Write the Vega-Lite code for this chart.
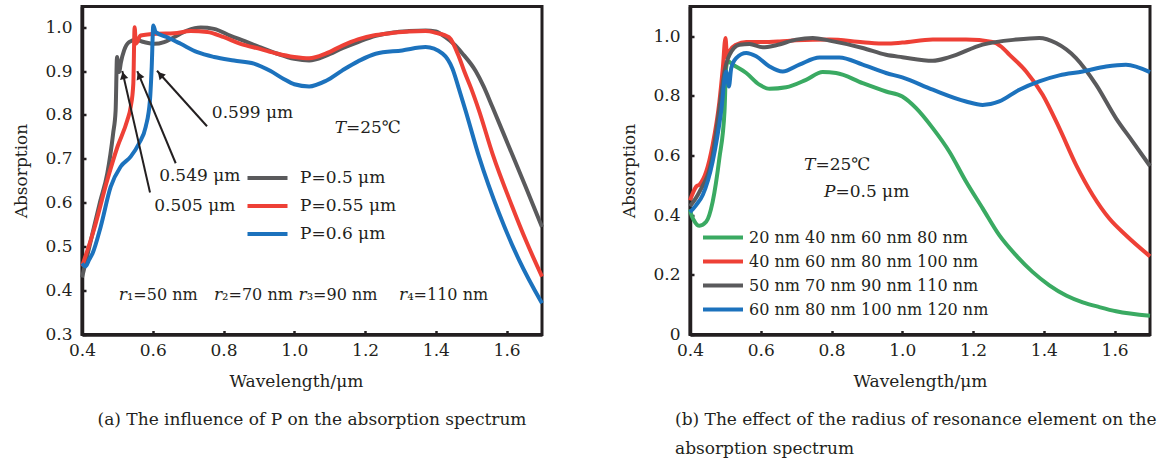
{
  "$schema": "https://vega.github.io/schema/vega-lite/v6.json",
  "padding": {"left": 11, "top": 4.5, "right": 3, "bottom": 5},
  "background": "white",
  "bounds": "flush",
  "spacing": 148,
  "config": {
    "font": "DejaVu Serif",
    "view": {"stroke": "#231f20", "strokeWidth": 3},
    "axis": {
      "grid": false,
      "labelFlush": false,
      "labelOverlap": false,
      "domainColor": "#231f20",
      "domainWidth": 3.5,
      "tickColor": "#231f20",
      "tickWidth": 2.5,
      "tickSize": -4,
      "labelFont": "DejaVu Serif",
      "labelFontSize": 17,
      "labelColor": "#231f20",
      "titleFont": "DejaVu Serif",
      "titleFontSize": 17,
      "titleFontWeight": "normal",
      "titleColor": "#231f20"
    },
    "legend": {
      "labelFont": "DejaVu Serif",
      "labelFontSize": 17,
      "labelColor": "#231f20",
      "labelLimit": 0,
      "symbolType": "M-4,0H4",
      "symbolSize": 100,
      "symbolStrokeWidth": 4,
      "padding": 0
    },
    "title": {"font": "DejaVu Serif", "fontSize": 17, "fontWeight": "normal", "color": "#231f20"}
  },
  "resolve": {
    "scale": {"x": "independent", "y": "independent", "color": "independent"},
    "legend": {"color": "independent"}
  },
  "datasets": {
    "left": [
      {"w":0.400,"a":0.430,"s":"P=0.5 μm"},{"w":0.415,"a":0.480,"s":"P=0.5 μm"},{"w":0.434,"a":0.545,"s":"P=0.5 μm"},{"w":0.452,"a":0.605,"s":"P=0.5 μm"},{"w":0.4715,"a":0.667,"s":"P=0.5 μm"},{"w":0.488,"a":0.758,"s":"P=0.5 μm"},{"w":0.495,"a":0.810,"s":"P=0.5 μm"},{"w":0.499,"a":0.932,"s":"P=0.5 μm"},{"w":0.502,"a":0.910,"s":"P=0.5 μm"},{"w":0.505,"a":0.898,"s":"P=0.5 μm"},{"w":0.510,"a":0.920,"s":"P=0.5 μm"},{"w":0.519,"a":0.947,"s":"P=0.5 μm"},{"w":0.533,"a":0.966,"s":"P=0.5 μm"},{"w":0.552,"a":0.971,"s":"P=0.5 μm"},{"w":0.575,"a":0.966,"s":"P=0.5 μm"},{"w":0.604,"a":0.962,"s":"P=0.5 μm"},{"w":0.632,"a":0.966,"s":"P=0.5 μm"},{"w":0.660,"a":0.977,"s":"P=0.5 μm"},{"w":0.697,"a":0.992,"s":"P=0.5 μm"},{"w":0.7355,"a":0.999,"s":"P=0.5 μm"},{"w":0.773,"a":0.996,"s":"P=0.5 μm"},{"w":0.820,"a":0.980,"s":"P=0.5 μm"},{"w":0.860,"a":0.968,"s":"P=0.5 μm"},{"w":0.900,"a":0.955,"s":"P=0.5 μm"},{"w":0.950,"a":0.940,"s":"P=0.5 μm"},{"w":1.000,"a":0.928,"s":"P=0.5 μm"},{"w":1.042,"a":0.924,"s":"P=0.5 μm"},{"w":1.090,"a":0.935,"s":"P=0.5 μm"},{"w":1.136,"a":0.952,"s":"P=0.5 μm"},{"w":1.180,"a":0.966,"s":"P=0.5 μm"},{"w":1.230,"a":0.980,"s":"P=0.5 μm"},{"w":1.280,"a":0.988,"s":"P=0.5 μm"},{"w":1.324,"a":0.991,"s":"P=0.5 μm"},{"w":1.371,"a":0.9925,"s":"P=0.5 μm"},{"w":1.400,"a":0.990,"s":"P=0.5 μm"},{"w":1.427,"a":0.977,"s":"P=0.5 μm"},{"w":1.450,"a":0.962,"s":"P=0.5 μm"},{"w":1.475,"a":0.940,"s":"P=0.5 μm"},{"w":1.5125,"a":0.900,"s":"P=0.5 μm"},{"w":1.535,"a":0.865,"s":"P=0.5 μm"},{"w":1.560,"a":0.818,"s":"P=0.5 μm"},{"w":1.607,"a":0.727,"s":"P=0.5 μm"},{"w":1.654,"a":0.636,"s":"P=0.5 μm"},{"w":1.700,"a":0.545,"s":"P=0.5 μm"},
      {"w":0.400,"a":0.455,"s":"P=0.55 μm"},{"w":0.4335,"a":0.538,"s":"P=0.55 μm"},{"w":0.4715,"a":0.652,"s":"P=0.55 μm"},{"w":0.500,"a":0.727,"s":"P=0.55 μm"},{"w":0.528,"a":0.788,"s":"P=0.55 μm"},{"w":0.5376,"a":0.818,"s":"P=0.55 μm"},{"w":0.545,"a":0.871,"s":"P=0.55 μm"},{"w":0.5487,"a":1.000,"s":"P=0.55 μm"},{"w":0.5524,"a":0.962,"s":"P=0.55 μm"},{"w":0.5656,"a":0.981,"s":"P=0.55 μm"},{"w":0.6128,"a":0.985,"s":"P=0.55 μm"},{"w":0.660,"a":0.986,"s":"P=0.55 μm"},{"w":0.707,"a":0.991,"s":"P=0.55 μm"},{"w":0.754,"a":0.989,"s":"P=0.55 μm"},{"w":0.801,"a":0.977,"s":"P=0.55 μm"},{"w":0.848,"a":0.962,"s":"P=0.55 μm"},{"w":0.905,"a":0.950,"s":"P=0.55 μm"},{"w":0.950,"a":0.940,"s":"P=0.55 μm"},{"w":1.000,"a":0.932,"s":"P=0.55 μm"},{"w":1.042,"a":0.929,"s":"P=0.55 μm"},{"w":1.090,"a":0.940,"s":"P=0.55 μm"},{"w":1.136,"a":0.958,"s":"P=0.55 μm"},{"w":1.180,"a":0.972,"s":"P=0.55 μm"},{"w":1.230,"a":0.982,"s":"P=0.55 μm"},{"w":1.280,"a":0.987,"s":"P=0.55 μm"},{"w":1.324,"a":0.990,"s":"P=0.55 μm"},{"w":1.371,"a":0.991,"s":"P=0.55 μm"},{"w":1.400,"a":0.987,"s":"P=0.55 μm"},{"w":1.437,"a":0.977,"s":"P=0.55 μm"},{"w":1.4655,"a":0.932,"s":"P=0.55 μm"},{"w":1.480,"a":0.900,"s":"P=0.55 μm"},{"w":1.500,"a":0.860,"s":"P=0.55 μm"},{"w":1.522,"a":0.810,"s":"P=0.55 μm"},{"w":1.560,"a":0.712,"s":"P=0.55 μm"},{"w":1.616,"a":0.591,"s":"P=0.55 μm"},{"w":1.654,"a":0.515,"s":"P=0.55 μm"},{"w":1.700,"a":0.432,"s":"P=0.55 μm"},
      {"w":0.400,"a":0.462,"s":"P=0.6 μm"},{"w":0.410,"a":0.455,"s":"P=0.6 μm"},{"w":0.420,"a":0.470,"s":"P=0.6 μm"},{"w":0.430,"a":0.485,"s":"P=0.6 μm"},{"w":0.4527,"a":0.545,"s":"P=0.6 μm"},{"w":0.481,"a":0.636,"s":"P=0.6 μm"},{"w":0.509,"a":0.682,"s":"P=0.6 μm"},{"w":0.5376,"a":0.705,"s":"P=0.6 μm"},{"w":0.561,"a":0.735,"s":"P=0.6 μm"},{"w":0.580,"a":0.773,"s":"P=0.6 μm"},{"w":0.592,"a":0.833,"s":"P=0.6 μm"},{"w":0.597,"a":0.909,"s":"P=0.6 μm"},{"w":0.6015,"a":1.004,"s":"P=0.6 μm"},{"w":0.608,"a":0.989,"s":"P=0.6 μm"},{"w":0.641,"a":0.977,"s":"P=0.6 μm"},{"w":0.679,"a":0.962,"s":"P=0.6 μm"},{"w":0.726,"a":0.943,"s":"P=0.6 μm"},{"w":0.7735,"a":0.932,"s":"P=0.6 μm"},{"w":0.8296,"a":0.924,"s":"P=0.6 μm"},{"w":0.886,"a":0.917,"s":"P=0.6 μm"},{"w":0.933,"a":0.900,"s":"P=0.6 μm"},{"w":0.970,"a":0.882,"s":"P=0.6 μm"},{"w":1.000,"a":0.870,"s":"P=0.6 μm"},{"w":1.042,"a":0.865,"s":"P=0.6 μm"},{"w":1.090,"a":0.878,"s":"P=0.6 μm"},{"w":1.136,"a":0.9016,"s":"P=0.6 μm"},{"w":1.180,"a":0.922,"s":"P=0.6 μm"},{"w":1.230,"a":0.9395,"s":"P=0.6 μm"},{"w":1.305,"a":0.947,"s":"P=0.6 μm"},{"w":1.371,"a":0.9545,"s":"P=0.6 μm"},{"w":1.419,"a":0.9395,"s":"P=0.6 μm"},{"w":1.447,"a":0.905,"s":"P=0.6 μm"},{"w":1.465,"a":0.860,"s":"P=0.6 μm"},{"w":1.484,"a":0.810,"s":"P=0.6 μm"},{"w":1.522,"a":0.705,"s":"P=0.6 μm"},{"w":1.5786,"a":0.576,"s":"P=0.6 μm"},{"w":1.635,"a":0.470,"s":"P=0.6 μm"},{"w":1.700,"a":0.371,"s":"P=0.6 μm"}
    ],
    "right": [
      {"w":0.400,"a":0.420,"s":"20 nm 40 nm 60 nm 80 nm"},{"w":0.403,"a":0.405,"s":"20 nm 40 nm 60 nm 80 nm"},{"w":0.410,"a":0.385,"s":"20 nm 40 nm 60 nm 80 nm"},{"w":0.420,"a":0.368,"s":"20 nm 40 nm 60 nm 80 nm"},{"w":0.427,"a":0.365,"s":"20 nm 40 nm 60 nm 80 nm"},{"w":0.4457,"a":0.378,"s":"20 nm 40 nm 60 nm 80 nm"},{"w":0.464,"a":0.445,"s":"20 nm 40 nm 60 nm 80 nm"},{"w":0.483,"a":0.591,"s":"20 nm 40 nm 60 nm 80 nm"},{"w":0.4975,"a":0.748,"s":"20 nm 40 nm 60 nm 80 nm"},{"w":0.502,"a":0.893,"s":"20 nm 40 nm 60 nm 80 nm"},{"w":0.507,"a":0.916,"s":"20 nm 40 nm 60 nm 80 nm"},{"w":0.521,"a":0.905,"s":"20 nm 40 nm 60 nm 80 nm"},{"w":0.559,"a":0.877,"s":"20 nm 40 nm 60 nm 80 nm"},{"w":0.596,"a":0.838,"s":"20 nm 40 nm 60 nm 80 nm"},{"w":0.6246,"a":0.824,"s":"20 nm 40 nm 60 nm 80 nm"},{"w":0.6718,"a":0.829,"s":"20 nm 40 nm 60 nm 80 nm"},{"w":0.728,"a":0.854,"s":"20 nm 40 nm 60 nm 80 nm"},{"w":0.775,"a":0.880,"s":"20 nm 40 nm 60 nm 80 nm"},{"w":0.813,"a":0.877,"s":"20 nm 40 nm 60 nm 80 nm"},{"w":0.888,"a":0.843,"s":"20 nm 40 nm 60 nm 80 nm"},{"w":0.954,"a":0.815,"s":"20 nm 40 nm 60 nm 80 nm"},{"w":1.000,"a":0.798,"s":"20 nm 40 nm 60 nm 80 nm"},{"w":1.039,"a":0.759,"s":"20 nm 40 nm 60 nm 80 nm"},{"w":1.086,"a":0.692,"s":"20 nm 40 nm 60 nm 80 nm"},{"w":1.133,"a":0.613,"s":"20 nm 40 nm 60 nm 80 nm"},{"w":1.180,"a":0.513,"s":"20 nm 40 nm 60 nm 80 nm"},{"w":1.227,"a":0.423,"s":"20 nm 40 nm 60 nm 80 nm"},{"w":1.274,"a":0.333,"s":"20 nm 40 nm 60 nm 80 nm"},{"w":1.321,"a":0.266,"s":"20 nm 40 nm 60 nm 80 nm"},{"w":1.368,"a":0.210,"s":"20 nm 40 nm 60 nm 80 nm"},{"w":1.4155,"a":0.165,"s":"20 nm 40 nm 60 nm 80 nm"},{"w":1.463,"a":0.131,"s":"20 nm 40 nm 60 nm 80 nm"},{"w":1.510,"a":0.108,"s":"20 nm 40 nm 60 nm 80 nm"},{"w":1.557,"a":0.092,"s":"20 nm 40 nm 60 nm 80 nm"},{"w":1.604,"a":0.078,"s":"20 nm 40 nm 60 nm 80 nm"},{"w":1.700,"a":0.063,"s":"20 nm 40 nm 60 nm 80 nm"},
      {"w":0.400,"a":0.450,"s":"40 nm 60 nm 80 nm 100 nm"},{"w":0.4175,"a":0.496,"s":"40 nm 60 nm 80 nm 100 nm"},{"w":0.427,"a":0.503,"s":"40 nm 60 nm 80 nm 100 nm"},{"w":0.4457,"a":0.546,"s":"40 nm 60 nm 80 nm 100 nm"},{"w":0.464,"a":0.636,"s":"40 nm 60 nm 80 nm 100 nm"},{"w":0.483,"a":0.780,"s":"40 nm 60 nm 80 nm 100 nm"},{"w":0.4927,"a":0.893,"s":"40 nm 60 nm 80 nm 100 nm"},{"w":0.5003,"a":0.994,"s":"40 nm 60 nm 80 nm 100 nm"},{"w":0.505,"a":0.927,"s":"40 nm 60 nm 80 nm 100 nm"},{"w":0.5116,"a":0.950,"s":"40 nm 60 nm 80 nm 100 nm"},{"w":0.5305,"a":0.972,"s":"40 nm 60 nm 80 nm 100 nm"},{"w":0.559,"a":0.981,"s":"40 nm 60 nm 80 nm 100 nm"},{"w":0.6057,"a":0.981,"s":"40 nm 60 nm 80 nm 100 nm"},{"w":0.653,"a":0.983,"s":"40 nm 60 nm 80 nm 100 nm"},{"w":0.700,"a":0.9866,"s":"40 nm 60 nm 80 nm 100 nm"},{"w":0.794,"a":0.989,"s":"40 nm 60 nm 80 nm 100 nm"},{"w":0.888,"a":0.980,"s":"40 nm 60 nm 80 nm 100 nm"},{"w":0.954,"a":0.9755,"s":"40 nm 60 nm 80 nm 100 nm"},{"w":1.000,"a":0.979,"s":"40 nm 60 nm 80 nm 100 nm"},{"w":1.086,"a":0.989,"s":"40 nm 60 nm 80 nm 100 nm"},{"w":1.180,"a":0.989,"s":"40 nm 60 nm 80 nm 100 nm"},{"w":1.255,"a":0.981,"s":"40 nm 60 nm 80 nm 100 nm"},{"w":1.280,"a":0.965,"s":"40 nm 60 nm 80 nm 100 nm"},{"w":1.3025,"a":0.9385,"s":"40 nm 60 nm 80 nm 100 nm"},{"w":1.350,"a":0.882,"s":"40 nm 60 nm 80 nm 100 nm"},{"w":1.3966,"a":0.804,"s":"40 nm 60 nm 80 nm 100 nm"},{"w":1.4438,"a":0.692,"s":"40 nm 60 nm 80 nm 100 nm"},{"w":1.491,"a":0.569,"s":"40 nm 60 nm 80 nm 100 nm"},{"w":1.538,"a":0.468,"s":"40 nm 60 nm 80 nm 100 nm"},{"w":1.585,"a":0.389,"s":"40 nm 60 nm 80 nm 100 nm"},{"w":1.632,"a":0.333,"s":"40 nm 60 nm 80 nm 100 nm"},{"w":1.700,"a":0.262,"s":"40 nm 60 nm 80 nm 100 nm"},
      {"w":0.400,"a":0.430,"s":"50 nm 70 nm 90 nm 110 nm"},{"w":0.427,"a":0.479,"s":"50 nm 70 nm 90 nm 110 nm"},{"w":0.464,"a":0.602,"s":"50 nm 70 nm 90 nm 110 nm"},{"w":0.483,"a":0.759,"s":"50 nm 70 nm 90 nm 110 nm"},{"w":0.4975,"a":0.882,"s":"50 nm 70 nm 90 nm 110 nm"},{"w":0.5116,"a":0.938,"s":"50 nm 70 nm 90 nm 110 nm"},{"w":0.540,"a":0.972,"s":"50 nm 70 nm 90 nm 110 nm"},{"w":0.568,"a":0.974,"s":"50 nm 70 nm 90 nm 110 nm"},{"w":0.6057,"a":0.963,"s":"50 nm 70 nm 90 nm 110 nm"},{"w":0.6435,"a":0.970,"s":"50 nm 70 nm 90 nm 110 nm"},{"w":0.700,"a":0.989,"s":"50 nm 70 nm 90 nm 110 nm"},{"w":0.747,"a":0.9945,"s":"50 nm 70 nm 90 nm 110 nm"},{"w":0.794,"a":0.9855,"s":"50 nm 70 nm 90 nm 110 nm"},{"w":0.888,"a":0.961,"s":"50 nm 70 nm 90 nm 110 nm"},{"w":0.954,"a":0.938,"s":"50 nm 70 nm 90 nm 110 nm"},{"w":1.000,"a":0.930,"s":"50 nm 70 nm 90 nm 110 nm"},{"w":1.086,"a":0.918,"s":"50 nm 70 nm 90 nm 110 nm"},{"w":1.133,"a":0.930,"s":"50 nm 70 nm 90 nm 110 nm"},{"w":1.227,"a":0.972,"s":"50 nm 70 nm 90 nm 110 nm"},{"w":1.321,"a":0.989,"s":"50 nm 70 nm 90 nm 110 nm"},{"w":1.387,"a":0.9945,"s":"50 nm 70 nm 90 nm 110 nm"},{"w":1.4345,"a":0.9775,"s":"50 nm 70 nm 90 nm 110 nm"},{"w":1.491,"a":0.927,"s":"50 nm 70 nm 90 nm 110 nm"},{"w":1.5475,"a":0.838,"s":"50 nm 70 nm 90 nm 110 nm"},{"w":1.604,"a":0.725,"s":"50 nm 70 nm 90 nm 110 nm"},{"w":1.651,"a":0.647,"s":"50 nm 70 nm 90 nm 110 nm"},{"w":1.700,"a":0.565,"s":"50 nm 70 nm 90 nm 110 nm"},
      {"w":0.400,"a":0.410,"s":"60 nm 80 nm 100 nm 120 nm"},{"w":0.4175,"a":0.434,"s":"60 nm 80 nm 100 nm 120 nm"},{"w":0.436,"a":0.468,"s":"60 nm 80 nm 100 nm 120 nm"},{"w":0.464,"a":0.580,"s":"60 nm 80 nm 100 nm 120 nm"},{"w":0.488,"a":0.748,"s":"60 nm 80 nm 100 nm 120 nm"},{"w":0.502,"a":0.882,"s":"60 nm 80 nm 100 nm 120 nm"},{"w":0.510,"a":0.832,"s":"60 nm 80 nm 100 nm 120 nm"},{"w":0.5165,"a":0.893,"s":"60 nm 80 nm 100 nm 120 nm"},{"w":0.5305,"a":0.927,"s":"60 nm 80 nm 100 nm 120 nm"},{"w":0.559,"a":0.944,"s":"60 nm 80 nm 100 nm 120 nm"},{"w":0.587,"a":0.933,"s":"60 nm 80 nm 100 nm 120 nm"},{"w":0.6246,"a":0.899,"s":"60 nm 80 nm 100 nm 120 nm"},{"w":0.662,"a":0.882,"s":"60 nm 80 nm 100 nm 120 nm"},{"w":0.709,"a":0.905,"s":"60 nm 80 nm 100 nm 120 nm"},{"w":0.766,"a":0.929,"s":"60 nm 80 nm 100 nm 120 nm"},{"w":0.822,"a":0.929,"s":"60 nm 80 nm 100 nm 120 nm"},{"w":0.888,"a":0.905,"s":"60 nm 80 nm 100 nm 120 nm"},{"w":0.954,"a":0.877,"s":"60 nm 80 nm 100 nm 120 nm"},{"w":1.000,"a":0.862,"s":"60 nm 80 nm 100 nm 120 nm"},{"w":1.086,"a":0.821,"s":"60 nm 80 nm 100 nm 120 nm"},{"w":1.180,"a":0.7815,"s":"60 nm 80 nm 100 nm 120 nm"},{"w":1.227,"a":0.770,"s":"60 nm 80 nm 100 nm 120 nm"},{"w":1.274,"a":0.7815,"s":"60 nm 80 nm 100 nm 120 nm"},{"w":1.3308,"a":0.821,"s":"60 nm 80 nm 100 nm 120 nm"},{"w":1.387,"a":0.849,"s":"60 nm 80 nm 100 nm 120 nm"},{"w":1.4438,"a":0.869,"s":"60 nm 80 nm 100 nm 120 nm"},{"w":1.510,"a":0.882,"s":"60 nm 80 nm 100 nm 120 nm"},{"w":1.576,"a":0.899,"s":"60 nm 80 nm 100 nm 120 nm"},{"w":1.632,"a":0.905,"s":"60 nm 80 nm 100 nm 120 nm"},{"w":1.700,"a":0.880,"s":"60 nm 80 nm 100 nm 120 nm"}
    ],
    "arrows": [
      {"id":1,"x":0.7533,"y":0.7743,"x2":0.612,"y2":0.9007,"hx":0.6235,"hy":0.8897},
      {"id":2,"x":0.6648,"y":0.690,"x2":0.5563,"y2":0.900,"hx":0.5628,"hy":0.8875},
      {"id":3,"x":0.5922,"y":0.6234,"x2":0.5139,"y2":0.900,"hx":0.5176,"hy":0.8873}
    ],
    "textL": [
      {"x":0.767,"y":0.804,"t":"0.599 μm"},
      {"x":0.618,"y":0.661,"t":"0.549 μm"},
      {"x":0.604,"y":0.592,"t":"0.505 μm"},
      {"x":1.146,"y":0.77,"t":"=25℃"}
    ],
    "rL": [
      {"x":0.527,"y":0.389,"t":"₁=50 nm"},
      {"x":0.796,"y":0.389,"t":"₂=70 nm"},
      {"x":1.035,"y":0.389,"t":"₃=90 nm"},
      {"x":1.319,"y":0.389,"t":"₄=110 nm"}
    ],
    "italL": [
      {"x":1.146,"y":0.77,"t":"T"},
      {"x":0.527,"y":0.389,"t":"r"},
      {"x":0.796,"y":0.389,"t":"r"},
      {"x":1.035,"y":0.389,"t":"r"},
      {"x":1.319,"y":0.389,"t":"r"}
    ],
    "textR": [
      {"x":0.7545,"y":0.567,"t":"=25℃"},
      {"x":0.811,"y":0.477,"t":"=0.5 μm"}
    ],
    "italR": [
      {"x":0.7545,"y":0.567,"t":"T"},
      {"x":0.811,"y":0.477,"t":"P"}
    ]
  },
  "hconcat": [
    {
      "width": 460,
      "height": 328,
      "title": {"text": "(a) The influence of P on the absorption spectrum", "orient": "bottom", "anchor": "middle", "frame": "group", "offset": 22},
      "layer": [
        {
          "data": {"name": "left"},
          "mark": {"type": "line", "strokeWidth": 4, "interpolate": "monotone"},
          "encoding": {
            "x": {"field": "w", "type": "quantitative", "scale": {"domain": [0.4, 1.7], "nice": false, "zero": false},
                  "axis": {"title": "Wavelength/μm", "values": [0.4, 0.6, 0.8, 1.0, 1.2, 1.4, 1.6], "format": ".1f", "labelPadding": 12, "titlePadding": 15, "titleX": 214}},
            "y": {"field": "a", "type": "quantitative", "scale": {"domain": [0.3, 1.047], "nice": false, "zero": false},
                  "axis": {"title": "Absorption", "values": [0.3, 0.4, 0.5, 0.6, 0.7, 0.8, 0.9, 1.0], "format": ".1f", "labelPadding": 14, "titlePadding": 14}},
            "color": {"field": "s", "type": "nominal",
                      "scale": {"domain": ["P=0.5 μm", "P=0.55 μm", "P=0.6 μm"], "range": ["#5a5a5c", "#ee4036", "#1c72bd"]},
                      "legend": {"title": null, "orient": "none", "legendX": 177, "legendY": 163, "labelOffset": 24, "rowPadding": 10}}
          }
        },
        {
          "mark": {"type": "rule", "color": "#231f20", "strokeWidth": 2, "strokeDash": [12, 5, 3, 5]},
          "encoding": {"y": {"datum": 0.9, "type": "quantitative"}}
        },
        {
          "data": {"name": "arrows"},
          "mark": {"type": "rule", "color": "#231f20", "strokeWidth": 2},
          "encoding": {
            "x": {"field": "x", "type": "quantitative"},
            "y": {"field": "y", "type": "quantitative"},
            "x2": {"field": "x2"},
            "y2": {"field": "y2"}
          }
        },
        {
          "data": {"name": "arrows"},
          "transform": [{"filter": "datum.id == 1"}],
          "mark": {"type": "point", "shape": "triangle", "filled": true, "color": "#231f20", "size": 70, "angle": 318, "opacity": 1},
          "encoding": {"x": {"field": "hx", "type": "quantitative"}, "y": {"field": "hy", "type": "quantitative"}}
        },
        {
          "data": {"name": "arrows"},
          "transform": [{"filter": "datum.id == 2"}],
          "mark": {"type": "point", "shape": "triangle", "filled": true, "color": "#231f20", "size": 70, "angle": 337, "opacity": 1},
          "encoding": {"x": {"field": "hx", "type": "quantitative"}, "y": {"field": "hy", "type": "quantitative"}}
        },
        {
          "data": {"name": "arrows"},
          "transform": [{"filter": "datum.id == 3"}],
          "mark": {"type": "point", "shape": "triangle", "filled": true, "color": "#231f20", "size": 70, "angle": 347, "opacity": 1},
          "encoding": {"x": {"field": "hx", "type": "quantitative"}, "y": {"field": "hy", "type": "quantitative"}}
        },
        {
          "data": {"name": "textL"},
          "mark": {"type": "text", "align": "left", "baseline": "middle", "font": "DejaVu Serif", "fontSize": 17, "color": "#231f20"},
          "encoding": {"x": {"field": "x", "type": "quantitative"}, "y": {"field": "y", "type": "quantitative"}, "text": {"field": "t"}}
        },
        {
          "data": {"name": "rL"},
          "mark": {"type": "text", "align": "left", "baseline": "middle", "font": "DejaVu Serif", "fontSize": 16, "color": "#231f20"},
          "encoding": {"x": {"field": "x", "type": "quantitative"}, "y": {"field": "y", "type": "quantitative"}, "text": {"field": "t"}}
        },
        {
          "data": {"name": "italL"},
          "mark": {"type": "text", "align": "right", "baseline": "middle", "font": "DejaVu Serif", "fontStyle": "italic", "fontSize": 17, "color": "#231f20"},
          "encoding": {"x": {"field": "x", "type": "quantitative"}, "y": {"field": "y", "type": "quantitative"}, "text": {"field": "t"}}
        }
      ]
    },
    {
      "width": 460,
      "height": 328,
      "title": {"text": ["(b) The effect of the radius of resonance element on the", "\u00a0\u00a0\u00a0\u00a0\u00a0\u00a0absorption spectrum"], "orient": "bottom", "anchor": "start", "frame": "group", "dx": -15, "offset": 22, "lineHeight": 29},
      "layer": [
        {
          "data": {"name": "right"},
          "mark": {"type": "line", "strokeWidth": 4, "interpolate": "monotone"},
          "encoding": {
            "x": {"field": "w", "type": "quantitative", "scale": {"domain": [0.4, 1.7], "nice": false, "zero": false},
                  "axis": {"title": "Wavelength/μm", "values": [0.4, 0.6, 0.8, 1.0, 1.2, 1.4, 1.6], "format": ".1f", "labelPadding": 12, "titlePadding": 15}},
            "y": {"field": "a", "type": "quantitative", "scale": {"domain": [0, 1.1], "nice": false},
                  "axis": {"title": "Absorption", "values": [0, 0.2, 0.4, 0.6, 0.8, 1.0], "labelExpr": "datum.value == 0 ? '0' : format(datum.value, '.1f')", "labelPadding": 14, "titlePadding": 14}},
            "color": {"field": "s", "type": "nominal",
                      "scale": {"domain": ["20 nm 40 nm 60 nm 80 nm", "40 nm 60 nm 80 nm 100 nm", "50 nm 70 nm 90 nm 110 nm", "60 nm 80 nm 100 nm 120 nm"], "range": ["#3aaa62", "#ee4036", "#5a5a5c", "#1c72bd"]},
                      "legend": {"title": null, "orient": "none", "legendX": 25, "legendY": 223, "labelOffset": 18, "rowPadding": 8, "labelFontSize": 16}}
          }
        },
        {
          "data": {"name": "textR"},
          "mark": {"type": "text", "align": "left", "baseline": "middle", "font": "DejaVu Serif", "fontSize": 17, "color": "#231f20"},
          "encoding": {"x": {"field": "x", "type": "quantitative"}, "y": {"field": "y", "type": "quantitative"}, "text": {"field": "t"}}
        },
        {
          "data": {"name": "italR"},
          "mark": {"type": "text", "align": "right", "baseline": "middle", "font": "DejaVu Serif", "fontStyle": "italic", "fontSize": 17, "color": "#231f20"},
          "encoding": {"x": {"field": "x", "type": "quantitative"}, "y": {"field": "y", "type": "quantitative"}, "text": {"field": "t"}}
        }
      ]
    }
  ]
}
